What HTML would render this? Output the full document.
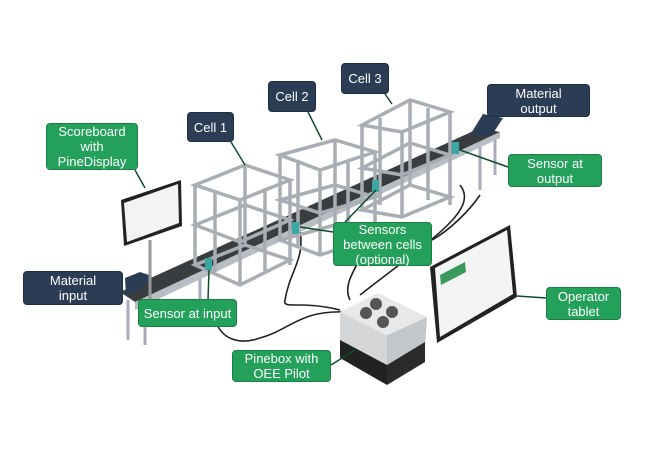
<!DOCTYPE html>
<html><head><meta charset="utf-8"><style>
html,body{margin:0;padding:0;background:#fff;}
body{width:650px;height:461px;position:relative;overflow:hidden;font-family:"Liberation Sans",sans-serif;}
.l{position:absolute;color:#fff;font-size:13px;line-height:15px;text-align:center;display:flex;align-items:center;justify-content:center;border-radius:4px;box-sizing:border-box;}
.g{background:#23a15a;border:1px solid #1b7e45;}
.n{background:#2b3d55;border:1px solid #1f2d40;}
svg{position:absolute;left:0;top:0;}
</style></head><body>
<svg width="650" height="461" viewBox="0 0 650 461">
 <g fill="none" stroke="#222" stroke-width="1.6">
  <path d="M215 318 C220 340 240 345 260 338 C290 330 300 310 345 312"/>
  <path d="M300 230 C305 260 290 270 285 300 C282 310 300 300 340 310"/>
  <path d="M372 230 C365 260 340 280 350 300"/>
  <path d="M460 185 C480 210 430 240 360 295"/>
  <path d="M432 240 C450 230 470 210 480 195"/>
 </g>
 <g stroke="#aab" stroke-width="3">
  <line x1="128" y1="300" x2="128" y2="340"/><line x1="145" y1="302" x2="145" y2="345"/>
  <line x1="200" y1="270" x2="200" y2="310"/><line x1="480" y1="140" x2="480" y2="190"/>
  <line x1="495" y1="135" x2="495" y2="175"/>
 </g>
 <polygon points="120,292 480,128 500,132 135,302" fill="#3a3d40"/>
 <polygon points="135,302 500,132 500,138 135,310" fill="#b9bec4"/>
 <g fill="none" stroke="#a8aeb4" stroke-width="3.5">
  <polygon points="195,185 245,165 290,180 240,200"/>
  <polygon points="195,265 245,245 290,260 240,285"/>
  <polygon points="195,225 245,205 290,220 240,242"/>
  <line x1="195" y1="185" x2="195" y2="265"/><line x1="240" y1="200" x2="240" y2="285"/>
  <line x1="290" y1="180" x2="290" y2="265"/><line x1="245" y1="165" x2="245" y2="245"/>
  <line x1="215" y1="190" x2="215" y2="272"/><line x1="265" y1="188" x2="265" y2="272"/>
  <polygon points="280,155 335,140 375,152 320,170"/>
  <polygon points="280,240 335,225 375,237 320,255"/>
  <polygon points="280,200 335,185 375,197 320,213"/>
  <line x1="280" y1="155" x2="280" y2="240"/><line x1="320" y1="170" x2="320" y2="255"/>
  <line x1="375" y1="152" x2="375" y2="240"/><line x1="335" y1="140" x2="335" y2="225"/>
  <line x1="298" y1="160" x2="298" y2="245"/><line x1="348" y1="160" x2="348" y2="245"/>
  <polygon points="362,125 410,100 450,112 402,132"/>
  <polygon points="362,210 410,185 450,197 402,217"/>
  <polygon points="362,168 410,143 450,155 402,175"/>
  <line x1="362" y1="125" x2="362" y2="210"/><line x1="402" y1="132" x2="402" y2="215"/>
  <line x1="450" y1="112" x2="450" y2="205"/><line x1="410" y1="100" x2="410" y2="185"/>
  <line x1="380" y1="118" x2="380" y2="205"/><line x1="428" y1="108" x2="428" y2="200"/>
 </g>
 <g fill="#3aa7a0"><rect x="205" y="258" width="7" height="12"/><rect x="292" y="222" width="7" height="12"/><rect x="372" y="180" width="7" height="12"/><rect x="452" y="142" width="7" height="12"/></g>
 <polygon points="125,278 140,272 152,276 140,290 126,295" fill="#2b3d55"/>
 <polygon points="470,135 483,114 503,118 492,135 484,136" fill="#2b3d55"/>
 <line x1="150" y1="240" x2="150" y2="300" stroke="#999" stroke-width="3"/>
 <polygon points="121,200 181,180 182,226 124,246" fill="#222"/>
 <polygon points="124,203 178,184 179,223 127,242" fill="#f3f3f3"/>
 <polygon points="430,267 510,225 517,297 437,343" fill="#222"/>
 <polygon points="435,268 507,230 513,294 440,337" fill="#f4f4f4"/>
 <polygon points="440,275 465,262 466,272 441,285" fill="#3a9a5c"/>
 <polygon points="340,312 340,347 387,373 387,335" fill="#d4d6d8"/>
 <polygon points="387,335 387,373 425,347 427,317" fill="#c4c7ca"/>
 <polygon points="340,340 387,365 387,385 340,358" fill="#222"/>
 <polygon points="387,365 425,342 425,362 387,385" fill="#2a2a2a"/>
 <polygon points="340,312 378,293 427,317 388,335" fill="#e6e8ea"/>
 <g fill="#555"><circle cx="376" cy="304" r="6"/><circle cx="392" cy="312" r="6"/><circle cx="366" cy="313" r="6"/><circle cx="383" cy="322" r="6"/></g>
 <g stroke="#0e4d2a" stroke-width="1.5" fill="none">
  <line x1="135" y1="170" x2="145" y2="188"/>
  <line x1="231" y1="142" x2="245" y2="165"/>
  <line x1="308" y1="112" x2="322" y2="140"/>
  <line x1="385" y1="94" x2="392" y2="104"/>
  <line x1="460" y1="150" x2="508" y2="167"/>
  <line x1="300" y1="227" x2="333" y2="232"/>
  <line x1="376" y1="190" x2="345" y2="222"/>
  <line x1="209" y1="270" x2="208" y2="300"/>
  <line x1="517" y1="296" x2="546" y2="298"/>
  <line x1="331" y1="365" x2="355" y2="350"/>
 </g>
</svg>
<div class="l g" style="left:46px;top:123px;width:92px;height:47px;">Scoreboard<br>with<br>PineDisplay</div>
<div class="l n" style="left:187px;top:112px;width:47px;height:30px;">Cell 1</div>
<div class="l n" style="left:268px;top:81px;width:48px;height:31px;">Cell 2</div>
<div class="l n" style="left:341px;top:63px;width:48px;height:31px;">Cell 3</div>
<div class="l n" style="left:487px;top:84px;width:103px;height:33px;">Material<br>output</div>
<div class="l g" style="left:508px;top:154px;width:94px;height:33px;">Sensor at<br>output</div>
<div class="l g" style="left:333px;top:222px;width:99px;height:44px;">Sensors<br>between cells<br>(optional)</div>
<div class="l n" style="left:23px;top:271px;width:100px;height:34px;">Material<br>input</div>
<div class="l g" style="left:138px;top:299px;width:99px;height:28px;">Sensor at input</div>
<div class="l g" style="left:546px;top:287px;width:75px;height:33px;">Operator<br>tablet</div>
<div class="l g" style="left:232px;top:350px;width:99px;height:32px;">Pinebox with<br>OEE Pilot</div>
</body></html>
